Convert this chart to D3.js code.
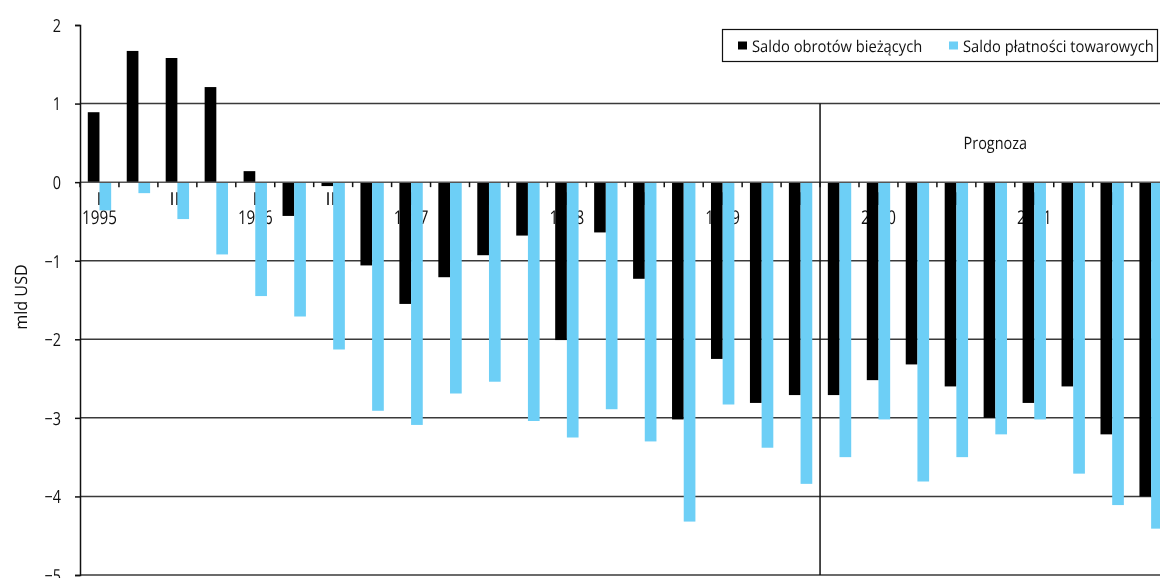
<!DOCTYPE html>
<meta charset="utf-8">
<head>
    <title>Saldo obrotów bieżących</title>
    <script src="https://cdn.jsdelivr.net/npm/d3@7/dist/d3.min.js"></script>
</head>

<style>
    body { margin: 0; background: white; }
    svg { will-change: transform; }
    text { font-family: "Open Sans", sans-serif; fill: #111; text-rendering: geometricPrecision; }
    .grid { stroke: #3a3a3a; stroke-width: 1.5px; }
</style>

<svg></svg>

<script>
    var vWidth = 1160;
    var vHeight = 578;

    // quarterly data 1995 I - 2001 IV, bln USD
    var years = ['1995', '1996', '1997', '1998', '1999', '2000', '2001'];
    var quarterNames = ['I', 'II', 'III', 'IV'];
    var seriesNames = ['Saldo obrotów bieżących', 'Saldo płatności towarowych'];
    var seriesColors = ['#000000', '#6dcff6'];
    var currentAccount = [0.89, 1.67, 1.58, 1.21, 0.14, -0.43, -0.05, -1.06,
        -1.55, -1.21, -0.93, -0.68, -2.01, -0.64, -1.23, -3.02,
        -2.25, -2.81, -2.71, -2.71, -2.52, -2.32, -2.6, -3.0,
        -2.81, -2.6, -3.21, -4.0];
    var tradeBalance = [-0.36, -0.14, -0.47, -0.92, -1.45, -1.71, -2.13, -2.91,
        -3.09, -2.69, -2.54, -3.04, -3.25, -2.89, -3.3, -4.32,
        -2.83, -3.38, -3.84, -3.5, -3.02, -3.81, -3.5, -3.21,
        -3.02, -3.71, -4.11, -4.41];
    var yTicks = [-5, -4, -3, -2, -1, 0, 1, 2];
    var gridValues = [1, -1, -2, -3, -4, -5];
    var forecastStart = '1999 IV';

    var quarters = [];
    years.forEach(function (yr) {
        quarterNames.forEach(function (q) { quarters.push({ key: yr + ' ' + q, year: yr, q: q }); });
    });
    quarters.forEach(function (d, i) { d.values = [currentAccount[i], tradeBalance[i]]; });

    var sx = 0.8; // text in the original is horizontally squeezed
    function squeeze(sel, k) {
        sel.attr('transform', function () {
            var t = d3.select(this);
            var px = +t.attr('x'), py = +t.attr('y');
            return 'translate(' + px + ',' + py + ') scale(' + (k || sx) + ',1)';
        }).attr('x', 0).attr('y', 0);
    }

    var svg = d3.select('svg').attr('width', vWidth).attr('height', vHeight);

    var plotLeft = 80, plotTop = 25, plotBottom = 575;
    var bandW = 38.95;
    var x = d3.scaleBand().domain(quarters.map(function (d) { return d.key; }))
        .range([plotLeft, plotLeft + bandW * quarters.length]);
    var x1 = d3.scaleBand().domain([0, 1]).range([x.bandwidth() * 0.2, x.bandwidth() * 0.8]);
    var y = d3.scaleLinear().domain([-5, 2]).range([plotBottom, plotTop]);
    var plotRight = x.range()[1];

    // gridlines
    svg.append('g').selectAll('line').data(gridValues).enter().append('line')
        .attr('class', 'grid')
        .attr('x1', plotLeft).attr('x2', plotRight)
        .attr('y1', function (d) { return y(d); }).attr('y2', function (d) { return y(d); });

    // quarter / year labels (sit under the bars)
    var lab = svg.append('g').attr('text-anchor', 'middle');
    var labeled = quarters.filter(function (d) { return d.q === 'I' || d.q === 'III'; });
    lab.selectAll('text.q').data(labeled).enter().append('text').attr('class', 'q')
        .attr('x', function (d) { return Math.round(x(d.key) + x.bandwidth() / 2); })
        .attr('y', 205)
        .attr('font-size', 18)
        .style('fill', '#000')
        .text(function (d) { return d.q; });
    lab.selectAll('text.yr').data(quarters.filter(function (d) { return d.q === 'I'; })).enter()
        .append('text').attr('class', 'yr')
        .attr('x', function (d) { return x(d.key) + x.bandwidth() / 2; })
        .attr('y', 224)
        .attr('font-size', 19)
        .text(function (d) { return d.year; })
        .call(squeeze);

    // bars
    var groups = svg.append('g').selectAll('g').data(quarters).enter().append('g')
        .attr('transform', function (d) { return 'translate(' + x(d.key) + ',0)'; });
    groups.selectAll('rect').data(function (d) { return d.values; }).enter().append('rect')
        .attr('x', function (d, i) { return x1(i); })
        .attr('width', x1.bandwidth())
        .attr('y', function (d) { return y(Math.max(0, d)); })
        .attr('height', function (d) { return Math.abs(y(d) - y(0)); })
        .attr('fill', function (d, i) { return seriesColors[i]; });

    // zero line + ticks on band edges
    svg.append('line').attr('x1', plotLeft).attr('x2', plotRight)
        .attr('y1', y(0)).attr('y2', y(0))
        .attr('stroke', '#555').attr('stroke-width', 1.5);
    var edges = quarters.map(function (d) { return x(d.key); }).concat([plotRight]);
    svg.append('g').selectAll('line').data(edges).enter().append('line')
        .attr('x1', function (d) { return d; }).attr('x2', function (d) { return d; })
        .attr('y1', y(0)).attr('y2', y(0) + 5)
        .attr('stroke', '#111').attr('stroke-width', 1.5);

    // y axis
    var yAxis = svg.append('g').attr('transform', 'translate(' + plotLeft + ',0)')
        .call(d3.axisLeft(y).tickValues(yTicks).tickSize(5).tickPadding(15).tickFormat(d3.format('d')));
    yAxis.select('.domain').attr('stroke', '#111').attr('stroke-width', 1.5);
    yAxis.selectAll('.tick line').attr('stroke', '#111').attr('stroke-width', 1.5);
    yAxis.selectAll('.tick text').attr('font-family', '"Open Sans", sans-serif')
        .attr('font-size', 18).attr('fill', '#111').attr('dy', '0.35em')
        .attr('x', 0).attr('transform', 'translate(-19,0) scale(' + sx + ',1)');

    svg.append('text')
        .attr('transform', 'translate(27,297) rotate(-90) scale(0.95,1)')
        .attr('text-anchor', 'middle').attr('font-size', 17)
        .text('mld USD');

    // forecast separator
    var fx = x(forecastStart);
    svg.append('line').attr('x1', fx).attr('x2', fx)
        .attr('y1', y(1)).attr('y2', y(-5))
        .attr('stroke', '#111').attr('stroke-width', 1.5);
    svg.append('text').attr('x', (fx + plotRight) / 2).attr('y', 149)
        .attr('text-anchor', 'middle').attr('font-size', 17)
        .text('Prognoza').call(squeeze, 0.85);

    // legend
    var lg = svg.append('g');
    lg.append('rect').attr('x', 722.5).attr('y', 29.5).attr('width', 435).attr('height', 32)
        .attr('fill', 'white').attr('stroke', '#111').attr('stroke-width', 1.2);
    var legendX = [738, 949];
    seriesNames.forEach(function (name, i) {
        lg.append('rect').attr('x', legendX[i]).attr('y', 41.5).attr('width', 9).attr('height', 8)
            .attr('fill', seriesColors[i]);
        lg.append('text').attr('x', legendX[i] + 14).attr('y', 51.5)
            .attr('font-size', 16).text(name).call(squeeze, 0.92);
    });
</script>
